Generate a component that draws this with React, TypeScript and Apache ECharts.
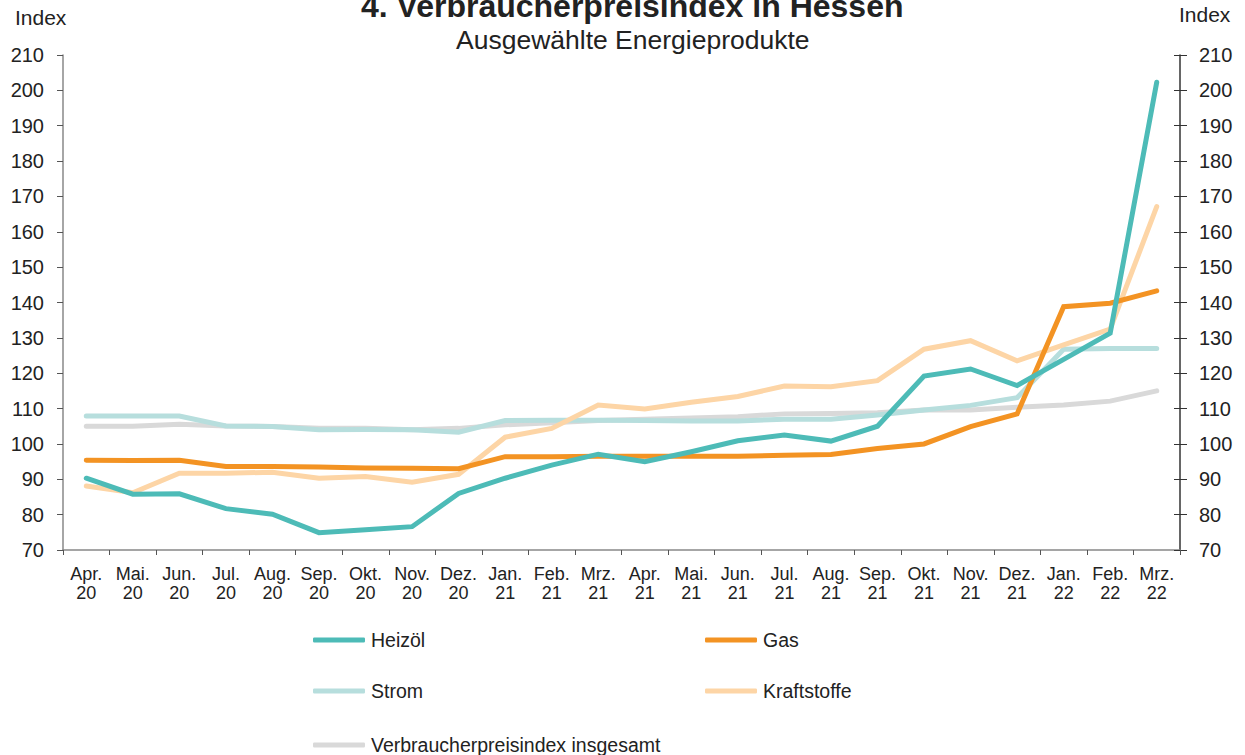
import React, { useEffect, useRef } from "react";
import * as echarts from "echarts";

const months = ["Apr.", "Mai.", "Jun.", "Jul.", "Aug.", "Sep.", "Okt.", "Nov.", "Dez.", "Jan.", "Feb.", "Mrz.",
  "Apr.", "Mai.", "Jun.", "Jul.", "Aug.", "Sep.", "Okt.", "Nov.", "Dez.", "Jan.", "Feb.", "Mrz."];
const years = ["20", "20", "20", "20", "20", "20", "20", "20", "20", "21", "21", "21",
  "21", "21", "21", "21", "21", "21", "21", "21", "21", "22", "22", "22"];
const categories = months.map((m, i) => m + "\n" + years[i]);

const heizoel = [90.3, 85.8, 85.9, 81.7, 80.1, 74.9, 75.7, 76.6, 86.0, 90.3, 94.0, 97.1,
  95.0, 97.8, 100.9, 102.5, 100.8, 105.0, 119.2, 121.2, 116.5, 123.9, 131.3, 202.3];
const gas = [95.4, 95.3, 95.4, 93.6, 93.6, 93.5, 93.2, 93.1, 93.0, 96.4, 96.4, 96.5,
  96.5, 96.5, 96.5, 96.8, 97.0, 98.7, 100.0, 104.9, 108.5, 138.8, 139.8, 143.3];
const strom = [107.9, 107.9, 107.9, 105.1, 104.9, 104.0, 104.1, 104.0, 103.3, 106.6, 106.7, 106.7,
  106.6, 106.5, 106.5, 107.0, 107.0, 108.2, 109.6, 110.9, 113.1, 126.8, 127.0, 127.0];
const kraftstoffe = [88.1, 86.2, 91.7, 91.7, 92.0, 90.3, 90.8, 89.2, 91.4, 101.9, 104.4, 111.0,
  109.9, 111.8, 113.4, 116.4, 116.2, 117.9, 126.8, 129.2, 123.5, 128.0, 132.5, 167.1];
const vpi = [105.0, 105.0, 105.6, 105.1, 104.9, 104.4, 104.4, 104.0, 104.4, 105.4, 106.0, 106.6,
  107.0, 107.3, 107.7, 108.5, 108.6, 108.8, 109.6, 109.6, 110.4, 111.0, 112.1, 115.0];

const FONT = "Liberation Sans, Arial, sans-serif";

export default function App() {
  const ref = useRef<HTMLDivElement>(null);
  useEffect(() => {
    const chart = echarts.init(ref.current!, null, { renderer: "svg" });
    const lineSeries = (name: string, data: number[], color: string, z: number) => ({
      name,
      type: "line",
      data,
      yAxisIndex: 0,
      symbol: "none",
      z,
      lineStyle: { color, width: 5, cap: "round", join: "miter" },
      itemStyle: { color },
    });
    const legendItem = (name: string, left: number, top: number) => ({
      left,
      top,
      padding: 0,
      orient: "horizontal",
      icon: "roundRect",
      itemWidth: 52,
      itemHeight: 5,
      itemGap: 0,
      data: [name],
      textStyle: { fontFamily: FONT, fontSize: 19.5, color: "#222", padding: [0, 0, 0, 1] },
    });
    chart.setOption({
      animation: false,
      textStyle: { fontFamily: FONT },
      title: [
        {
          text: "4. Verbraucherpreisindex in Hessen",
          left: 361,
          top: -10,
          padding: 0,
          textStyle: { fontFamily: FONT, fontSize: 32, lineHeight: 32, fontWeight: "bold", color: "#222" },
        },
        {
          text: "Ausgewählte Energieprodukte",
          left: 456,
          top: 27,
          padding: 0,
          textStyle: { fontFamily: FONT, fontSize: 26.5, lineHeight: 26.5, fontWeight: "normal", color: "#222" },
        },
        {
          text: "Index",
          left: 15,
          top: 7,
          padding: 0,
          textStyle: { fontFamily: FONT, fontSize: 21, lineHeight: 21, fontWeight: "normal", color: "#222" },
        },
        {
          text: "Index",
          left: 1179,
          top: 4,
          padding: 0,
          textStyle: { fontFamily: FONT, fontSize: 21, lineHeight: 21, fontWeight: "normal", color: "#222" },
        },
      ],
      legend: [
        legendItem("Heizöl", 313, 630),
        legendItem("Gas", 705, 630),
        legendItem("Strom", 313, 681),
        legendItem("Kraftstoffe", 705, 681),
        legendItem("Verbraucherpreisindex insgesamt", 313, 735),
      ],
      grid: { left: 63, right: 65, top: 55, bottom: 205, containLabel: false },
      xAxis: {
        type: "category",
        data: categories,
        boundaryGap: true,
        axisLine: { lineStyle: { color: "#888", width: 1.5 } },
        axisTick: { show: true, length: 5, interval: 0, lineStyle: { color: "#555" } },
        axisLabel: {
          interval: 0,
          margin: 14,
          fontFamily: FONT,
          fontSize: 18,
          lineHeight: 19.5,
          color: "#222",
        },
      },
      yAxis: [
        {
          type: "value",
          min: 70,
          max: 210,
          interval: 10,
          position: "left",
          splitLine: { show: false },
          axisLine: { show: true, lineStyle: { color: "#888", width: 1.5 } },
          axisTick: { show: true, length: 6, lineStyle: { color: "#555" } },
          axisLabel: { margin: 19, fontFamily: FONT, fontSize: 20, color: "#222" },
        },
        {
          type: "value",
          min: 70,
          max: 210,
          interval: 10,
          position: "right",
          splitLine: { show: false },
          axisLine: { show: true, lineStyle: { color: "#333", width: 1.5 } },
          axisTick: { show: true, length: 7, lineStyle: { color: "#333" } },
          axisLabel: { margin: 19, fontFamily: FONT, fontSize: 20, color: "#222" },
        },
        {
          type: "value",
          min: 70,
          max: 210,
          interval: 10,
          position: "right",
          splitLine: { show: false },
          axisLine: { show: false },
          axisTick: { show: true, inside: true, length: 6, lineStyle: { color: "#333" } },
          axisLabel: { show: false },
        },
      ],
      series: [
        lineSeries("Verbraucherpreisindex insgesamt", vpi, "#D9D9D9", 1),
        lineSeries("Strom", strom, "#B7DEDD", 2),
        lineSeries("Kraftstoffe", kraftstoffe, "#FDD5A6", 3),
        lineSeries("Gas", gas, "#F39323", 4),
        lineSeries("Heizöl", heizoel, "#4DBBB7", 5),
      ],
    });
    return () => chart.dispose();
  }, []);
  return <div ref={ref} style={{ width: 1245, height: 755, position: "absolute", left: 0, top: 0 }} />;
}
